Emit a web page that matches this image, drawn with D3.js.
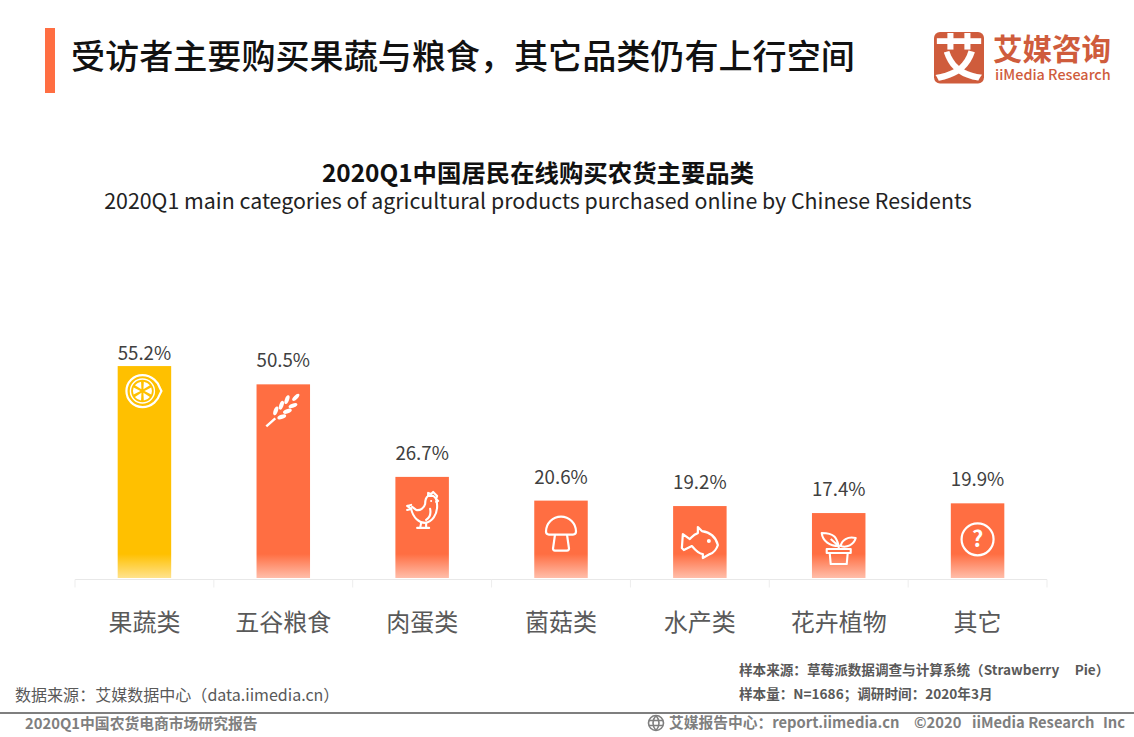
<!DOCTYPE html>
<html lang="zh"><head><meta charset="utf-8">
<script src="https://cdn.jsdelivr.net/npm/d3@7/dist/d3.min.js"></script>
<style>
html,body{margin:0;padding:0;background:#fff;overflow:hidden}
svg{display:block}
text{font-family:"Noto Sans CJK SC","Noto Sans",sans-serif;white-space:pre}
</style></head><body>
<svg id="c" width="1134" height="737"></svg>
<script>
const categories = ["果蔬类","五谷粮食","肉蛋类","菌菇类","水产类","花卉植物","其它"];
const values = [55.2,50.5,26.7,20.6,19.2,17.4,19.9];
const barColors = ["#FFC000","#FF6E42","#FF6E42","#FF6E42","#FF6E42","#FF6E42","#FF6E42"];
const pageTitle = "受访者主要购买果蔬与粮食，其它品类仍有上行空间";
const chartTitle = "2020Q1中国居民在线购买农货主要品类";
const chartSubtitle = "2020Q1 main categories of agricultural products purchased online by Chinese Residents";

const svg = d3.select("#c");
const x = d3.scaleBand().domain(categories).range([75,1047]);
const y = d3.scaleLinear().domain([0.7,60]).range([578,347.4]);
const barW = 53.5;
const cx = c => x(c)+x.bandwidth()/2;

// header
svg.append("rect").attr("x",45).attr("y",28).attr("width",10).attr("height",65).attr("fill","#FF6E42");
svg.append("text").attr("x",71).attr("y",69).attr("font-size",34.1).attr("font-weight",500).attr("fill","#111").text(pageTitle);

// logo
const logo = svg.append("g");
logo.append("rect").attr("x",934).attr("y",32).attr("width",50).attr("height",51.5).attr("rx",6).attr("fill","#CF5C3C");
logo.append("text").attr("x",959).attr("y",76).attr("text-anchor","middle").attr("font-size",50).attr("font-weight",700).attr("fill","#fff").text("艾");
logo.append("text").attr("x",993).attr("y",60).attr("font-size",29.5).attr("font-weight",700).attr("fill","#CF5C3C").text("艾媒咨询");
logo.append("text").attr("x",995).attr("y",80).attr("font-size",14.4).attr("font-family","Noto Sans").attr("font-weight",500).attr("fill","#CF5C3C").text("iiMedia Research");

// titles
svg.append("text").attr("x",538).attr("y",182).attr("text-anchor","middle").attr("font-size",24.4).attr("font-weight",700).attr("fill","#111").text(chartTitle);
svg.append("text").attr("x",538).attr("y",209).attr("text-anchor","middle").attr("font-size",21.35).attr("font-family","Noto Sans").attr("fill","#222").text(chartSubtitle);

// gradients
const defs = svg.append("defs");
[["y","#FFC000"],["o","#FF6E42"]].forEach(([id,col])=>{
  const g = defs.append("linearGradient").attr("id","g"+id).attr("gradientUnits","userSpaceOnUse")
    .attr("x1",0).attr("x2",0).attr("y1",y.range()[0]-24).attr("y2",y.range()[0]);
  g.append("stop").attr("offset",0).attr("stop-color",col);
  g.append("stop").attr("offset",1).attr("stop-color",col).attr("stop-opacity",.45);
});

// bars
svg.selectAll("rect.bar").data(categories).join("rect").attr("class","bar")
  .attr("x",d=>cx(d)-barW/2).attr("width",barW)
  .attr("y",(d,i)=>y(values[i])).attr("height",(d,i)=>y.range()[0]-y(values[i]))
  .attr("fill",(d,i)=>barColors[i]==="#FFC000"?"url(#gy)":"url(#go)");

// value labels: sit 17px above the bar, clamped where the plot area ends
svg.selectAll("text.val").data(categories).join("text").attr("class","val")
  .attr("x",cx).attr("y",(d,i)=>Math.max(y(values[i])-17,359.5)).attr("text-anchor","middle")
  .attr("font-size",18.7).attr("font-family","Noto Sans").attr("fill","#404040")
  .text((d,i)=>values[i].toFixed(1)+"%");

// axis
const axis = svg.append("g").attr("transform","translate(0,579.5)");
axis.append("line").attr("x1",75).attr("x2",1047).attr("stroke","#E8E8E8").attr("stroke-width",1.2);
const ticks = d3.range(categories.length+1).map(i=>75+i*x.step());
axis.selectAll("line.t").data(ticks).join("line").attr("class","t").attr("x1",d=>d).attr("x2",d=>d).attr("y1",0).attr("y2",8).attr("stroke","#EDEDED");
svg.selectAll("text.cat").data(categories).join("text").attr("class","cat")
  .attr("x",cx).attr("y",631).attr("text-anchor","middle").attr("font-size",24).attr("fill","#595959").text(d=>d);

// icons (drawn in local coordinates around each bar's centre)
const icons = {
 "果蔬类":{dy:25,draw(g){
   g.append("path").attr("d","M-2,-16 C8,-16 14,-8 15,-4 L17,0 L15,4 C14,8 8,16 -2,16 A16,16 0 0 1 -2,-16Z").attr("fill","none").attr("stroke","#fff").attr("stroke-width",2.2);
   g.append("circle").attr("cx",-2).attr("r",12).attr("fill","none").attr("stroke","#fff").attr("stroke-width",1.4);
   const a = d3.arc().innerRadius(2).outerRadius(9.5).padAngle(.28);
   d3.range(6).forEach(i=>g.append("path").attr("transform","translate(-2,0)").attr("d",a({startAngle:i*Math.PI/3,endAngle:(i+1)*Math.PI/3})).attr("fill","#fff"));
 }},
 "五谷粮食":{dy:25,draw(g){
   g.append("path").attr("d","M-17,17 L-8,9").attr("stroke","#fff").attr("stroke-width",2.4);
   d3.range(3).forEach(i=>{
     const t=-5+i*5.6;
     g.append("ellipse").attr("rx",4.6).attr("ry",2.1).attr("transform",`translate(${t-2.5},${-t-3.5}) rotate(-70)`).attr("fill","#fff");
     g.append("ellipse").attr("rx",4.6).attr("ry",2.1).attr("transform",`translate(${t+3.5},${-t+2.5}) rotate(-20)`).attr("fill","#fff");
   });
   g.append("ellipse").attr("rx",4.6).attr("ry",2).attr("transform","translate(12.5,-12) rotate(-45)").attr("fill","#fff");
 }},
 "肉蛋类":{dy:33,draw(g){
   const s=g.append("g").attr("fill","none").attr("stroke","#fff").attr("stroke-width",2.1).attr("stroke-linejoin","round").attr("stroke-linecap","round");
   s.append("path").attr("d","M-15,-4 L-11,-1 C-9,8 -3,13 3,13 C10,12 15,5 15,-4 C15,-9 13,-13 11,-14 L6,-14 C3,-12 3,-8 3,-6 C2,-2 -2,1 -6,0 L-10,-3 M-15,0 L-11,-1 M-15,-4 L-11,-5");
   s.append("path").attr("d","M6,-14 L6,-17 L9,-16 L11,-18 L13,-16 L15,-14 L14,-11 L16,-9 L14,-8");
   s.append("path").attr("d","M8,-1 C9,4 7,8 4,10 M-1,13 L-2,18 M4,13 L4,18 M-5,18 L7,18");
   g.append("circle").attr("cx",9).attr("cy",-9).attr("r",1).attr("fill","#fff");
 }},
 "菌菇类":{dy:33,draw(g){
   const s=g.append("g").attr("fill","none").attr("stroke","#fff").attr("stroke-width",2.2).attr("stroke-linejoin","round");
   s.append("path").attr("d","M-15,-2 A15,15 0 0 1 15,-2 C15,0 14,1 12,1 L-12,1 C-14,1 -15,0 -15,-2Z");
   s.append("path").attr("d","M-6,1 L-8,15 Q-8,17 -6,17 L6,17 Q8,17 8,15 L6,1");
 }},
 "水产类":{dy:35,draw(g){
   const s=g.append("g").attr("fill","none").attr("stroke","#fff").attr("stroke-width",2.2).attr("stroke-linejoin","round");
   s.append("path").attr("d","M-10,-2 L-17,-7 L-18,7 L-16,9 L-8,5 C-3,11 0,13 3,13 L3,17 L10,13 C14,12 17,7 18,4 C16,-4 10,-9 2,-10 L-2,-14 L-2,-8 C-6,-7 -8,-4 -10,-2Z");
   g.append("circle").attr("cx",9).attr("cy",0).attr("r",2).attr("fill","#fff");
 }},
 "花卉植物":{dy:35,draw(g){
   const s=g.append("g").attr("fill","none").attr("stroke","#fff").attr("stroke-width",2.1).attr("stroke-linejoin","round");
   s.append("path").attr("d","M-9,5 L-8,16 L8,16 L9,5 M-12,5 L12,5 L12,1 L-12,1Z M0,1 L0,-3");
   s.append("path").attr("d","M0,-2 C-2,-9 -3,-15 -17,-15 C-16,-7 -9,-2 0,-2Z M-8,-9 L0,-2");
   s.append("path").attr("d","M2,-2 C3,-8 9,-12 17,-10 C15,-3 8,0 2,-2Z");
 }},
 "其它":{dy:36,draw(g){
   g.append("circle").attr("r",16).attr("fill","none").attr("stroke","#fff").attr("stroke-width",2.2);
   g.append("text").attr("y",7.5).attr("text-anchor","middle").attr("font-size",22).attr("font-weight",700).attr("font-family","Noto Sans").attr("fill","#fff").text("?");
 }}
};
categories.forEach((c,i)=>{
  const g = svg.append("g").attr("transform",`translate(${cx(c)},${y(values[i])+icons[c].dy})`);
  icons[c].draw(g);
});

// footnotes
svg.append("text").attr("x",739).attr("y",675).attr("font-size",13.6).attr("font-weight",700).attr("fill","#595959").text("样本来源：草莓派数据调查与计算系统（Strawberry     Pie）");
svg.append("text").attr("x",739).attr("y",699).attr("font-size",13.6).attr("font-weight",700).attr("fill","#595959").text("样本量：N=1686；调研时间：2020年3月");
svg.append("text").attr("x",15).attr("y",701).attr("font-size",16.05).attr("fill","#595959").text("数据来源：艾媒数据中心（data.iimedia.cn）");
svg.append("rect").attr("x",0).attr("y",712).attr("width",1134).attr("height",2).attr("fill","#7F7F7F");
svg.append("text").attr("x",25).attr("y",729).attr("font-size",14.8).attr("font-weight",700).attr("fill","#7F7F7F").text("2020Q1中国农货电商市场研究报告");
[[669,"艾媒报告中心：report.iimedia.cn"],[914,"©2020"],[972,"iiMedia Research"],[1103,"Inc"]].forEach(([px,t])=>
  svg.append("text").attr("x",px).attr("y",728).attr("font-size",14.75).attr("font-weight",700).attr("fill","#7F7F7F").text(t));
const gl = svg.append("g").attr("transform","translate(656,723)").attr("fill","none").attr("stroke","#7F7F7F").attr("stroke-width",1.6);
gl.append("circle").attr("r",7.5);
gl.append("path").attr("d","M-7,-2.5 H7 M-7,2.5 H7 M0,-7.5 C-4,-3 -4,3 0,7.5 M0,-7.5 C4,-3 4,3 0,7.5");
</script></body></html>
